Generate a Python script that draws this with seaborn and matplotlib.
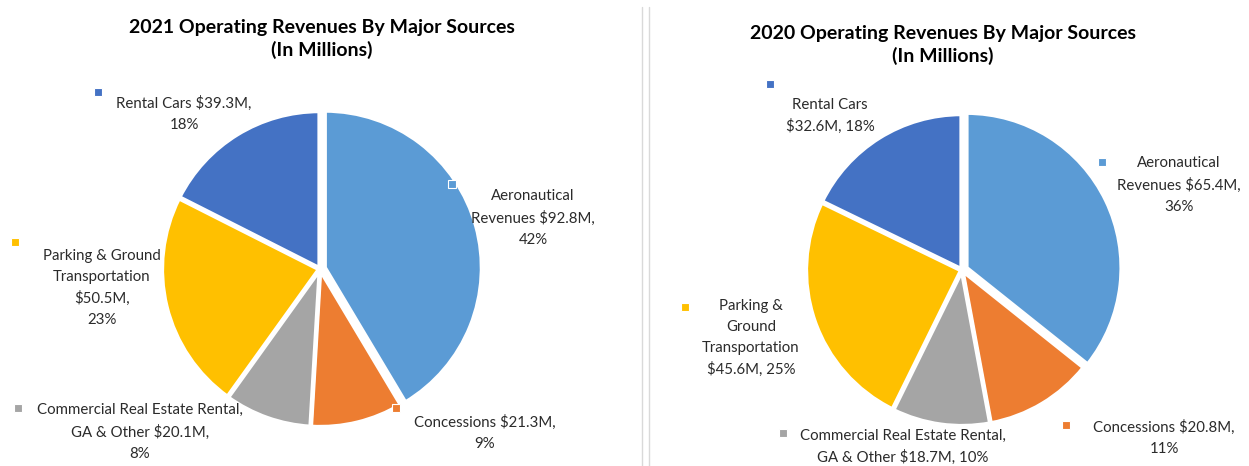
import matplotlib
matplotlib.use("Agg")
import matplotlib.pyplot as plt
import seaborn as sns

sns.set_theme(style="white")
plt.rcParams['font.family'] = ['Lato', 'DejaVu Sans']

# ---- data ----
categories = ["Aeronautical Revenues", "Concessions",
              "Commercial Real Estate Rental, GA & Other",
              "Parking & Ground Transportation", "Rental Cars"]
values_2021 = [92.8, 21.3, 20.1, 50.5, 39.3]
values_2020 = [65.4, 20.8, 18.7, 45.6, 32.6]
labels_2021 = ["Aeronautical\nRevenues $92.8M,\n42%",
               "Concessions $21.3M,\n9%",
               "Commercial Real Estate Rental,\nGA & Other $20.1M,\n8%",
               "Parking & Ground\nTransportation\n$50.5M,\n23%",
               "Rental Cars $39.3M,\n18%"]
labels_2020 = ["Aeronautical\nRevenues $65.4M,\n36%",
               "Concessions $20.8M,\n11%",
               "Commercial Real Estate Rental,\nGA & Other $18.7M, 10%",
               "Parking &\nGround\nTransportation\n$45.6M, 25%",
               "Rental Cars\n$32.6M, 18%"]
title_2021 = "2021 Operating Revenues By Major Sources\n(In Millions)"
title_2020 = "2020 Operating Revenues By Major Sources\n(In Millions)"

colors = ["#5B9BD5", "#ED7D31", "#A5A5A5", "#FFC000", "#4472C4"]
palette = sns.color_palette(colors)

W, H = 1249, 466
fig = plt.figure(figsize=(W / 100, H / 100), dpi=100)
ax = fig.add_axes([0, 0, 1, 1])

def Y(y):
    return H - y

# layout (pixel positions, image coordinates)
pie_layout = [
    dict(center=(320, 269), radius=157, values=values_2021, labels=labels_2021,
         title=title_2021, title_xy=(322, 39),
         text_xy=[(533, 218), (485, 433), (140, 432), (102, 288), (184, 114)],
         marker_xy=[(452, 184), (396, 408), (18, 408), (15, 242), (98, 92)]),
    dict(center=(962, 270), radius=155, values=values_2020, labels=labels_2020,
         title=title_2020, title_xy=(943, 45),
         text_xy=[(1179, 185), (1164, 438), (903, 447), (751, 338), (830, 116)],
         marker_xy=[(1102, 162), (1066, 425), (783, 433), (685, 307), (770, 84)]),
]

for p in pie_layout:
    cx, cy = p["center"]
    ax.pie(p["values"], colors=palette, startangle=90, counterclock=False,
           center=(cx, Y(cy)), radius=p["radius"],
           explode=[5, 1, 1, 1, 1],
           wedgeprops=dict(edgecolor="white", linewidth=3), frame=True)
    tx, ty = p["title_xy"]
    ax.text(tx, Y(ty), p["title"], ha="center", va="center", fontsize=14,
            fontweight="bold", color="#000000", linespacing=1.35)
    for lab, (x, y), (mx, my), c in zip(p["labels"], p["text_xy"], p["marker_xy"], palette):
        ax.text(x, Y(y), lab, ha="center", va="center", fontsize=10.8,
                color="#2b2b2b", linespacing=1.62)
        ax.plot([mx], [Y(my)], marker="s", markersize=5.5, color=c,
                markeredgecolor="white", markeredgewidth=0.8, linestyle="none")

ax.set_xlim(0, W)
ax.set_ylim(0, H)
ax.set_aspect("auto")
ax.axis("off")

# chart borders
ax.plot([642, 642], [Y(7), Y(466)], color="#D9D9D9", lw=1)
ax.plot([649, 649], [Y(7), Y(466)], color="#D9D9D9", lw=1)

fig.savefig("out.png", dpi=100, facecolor="white")
